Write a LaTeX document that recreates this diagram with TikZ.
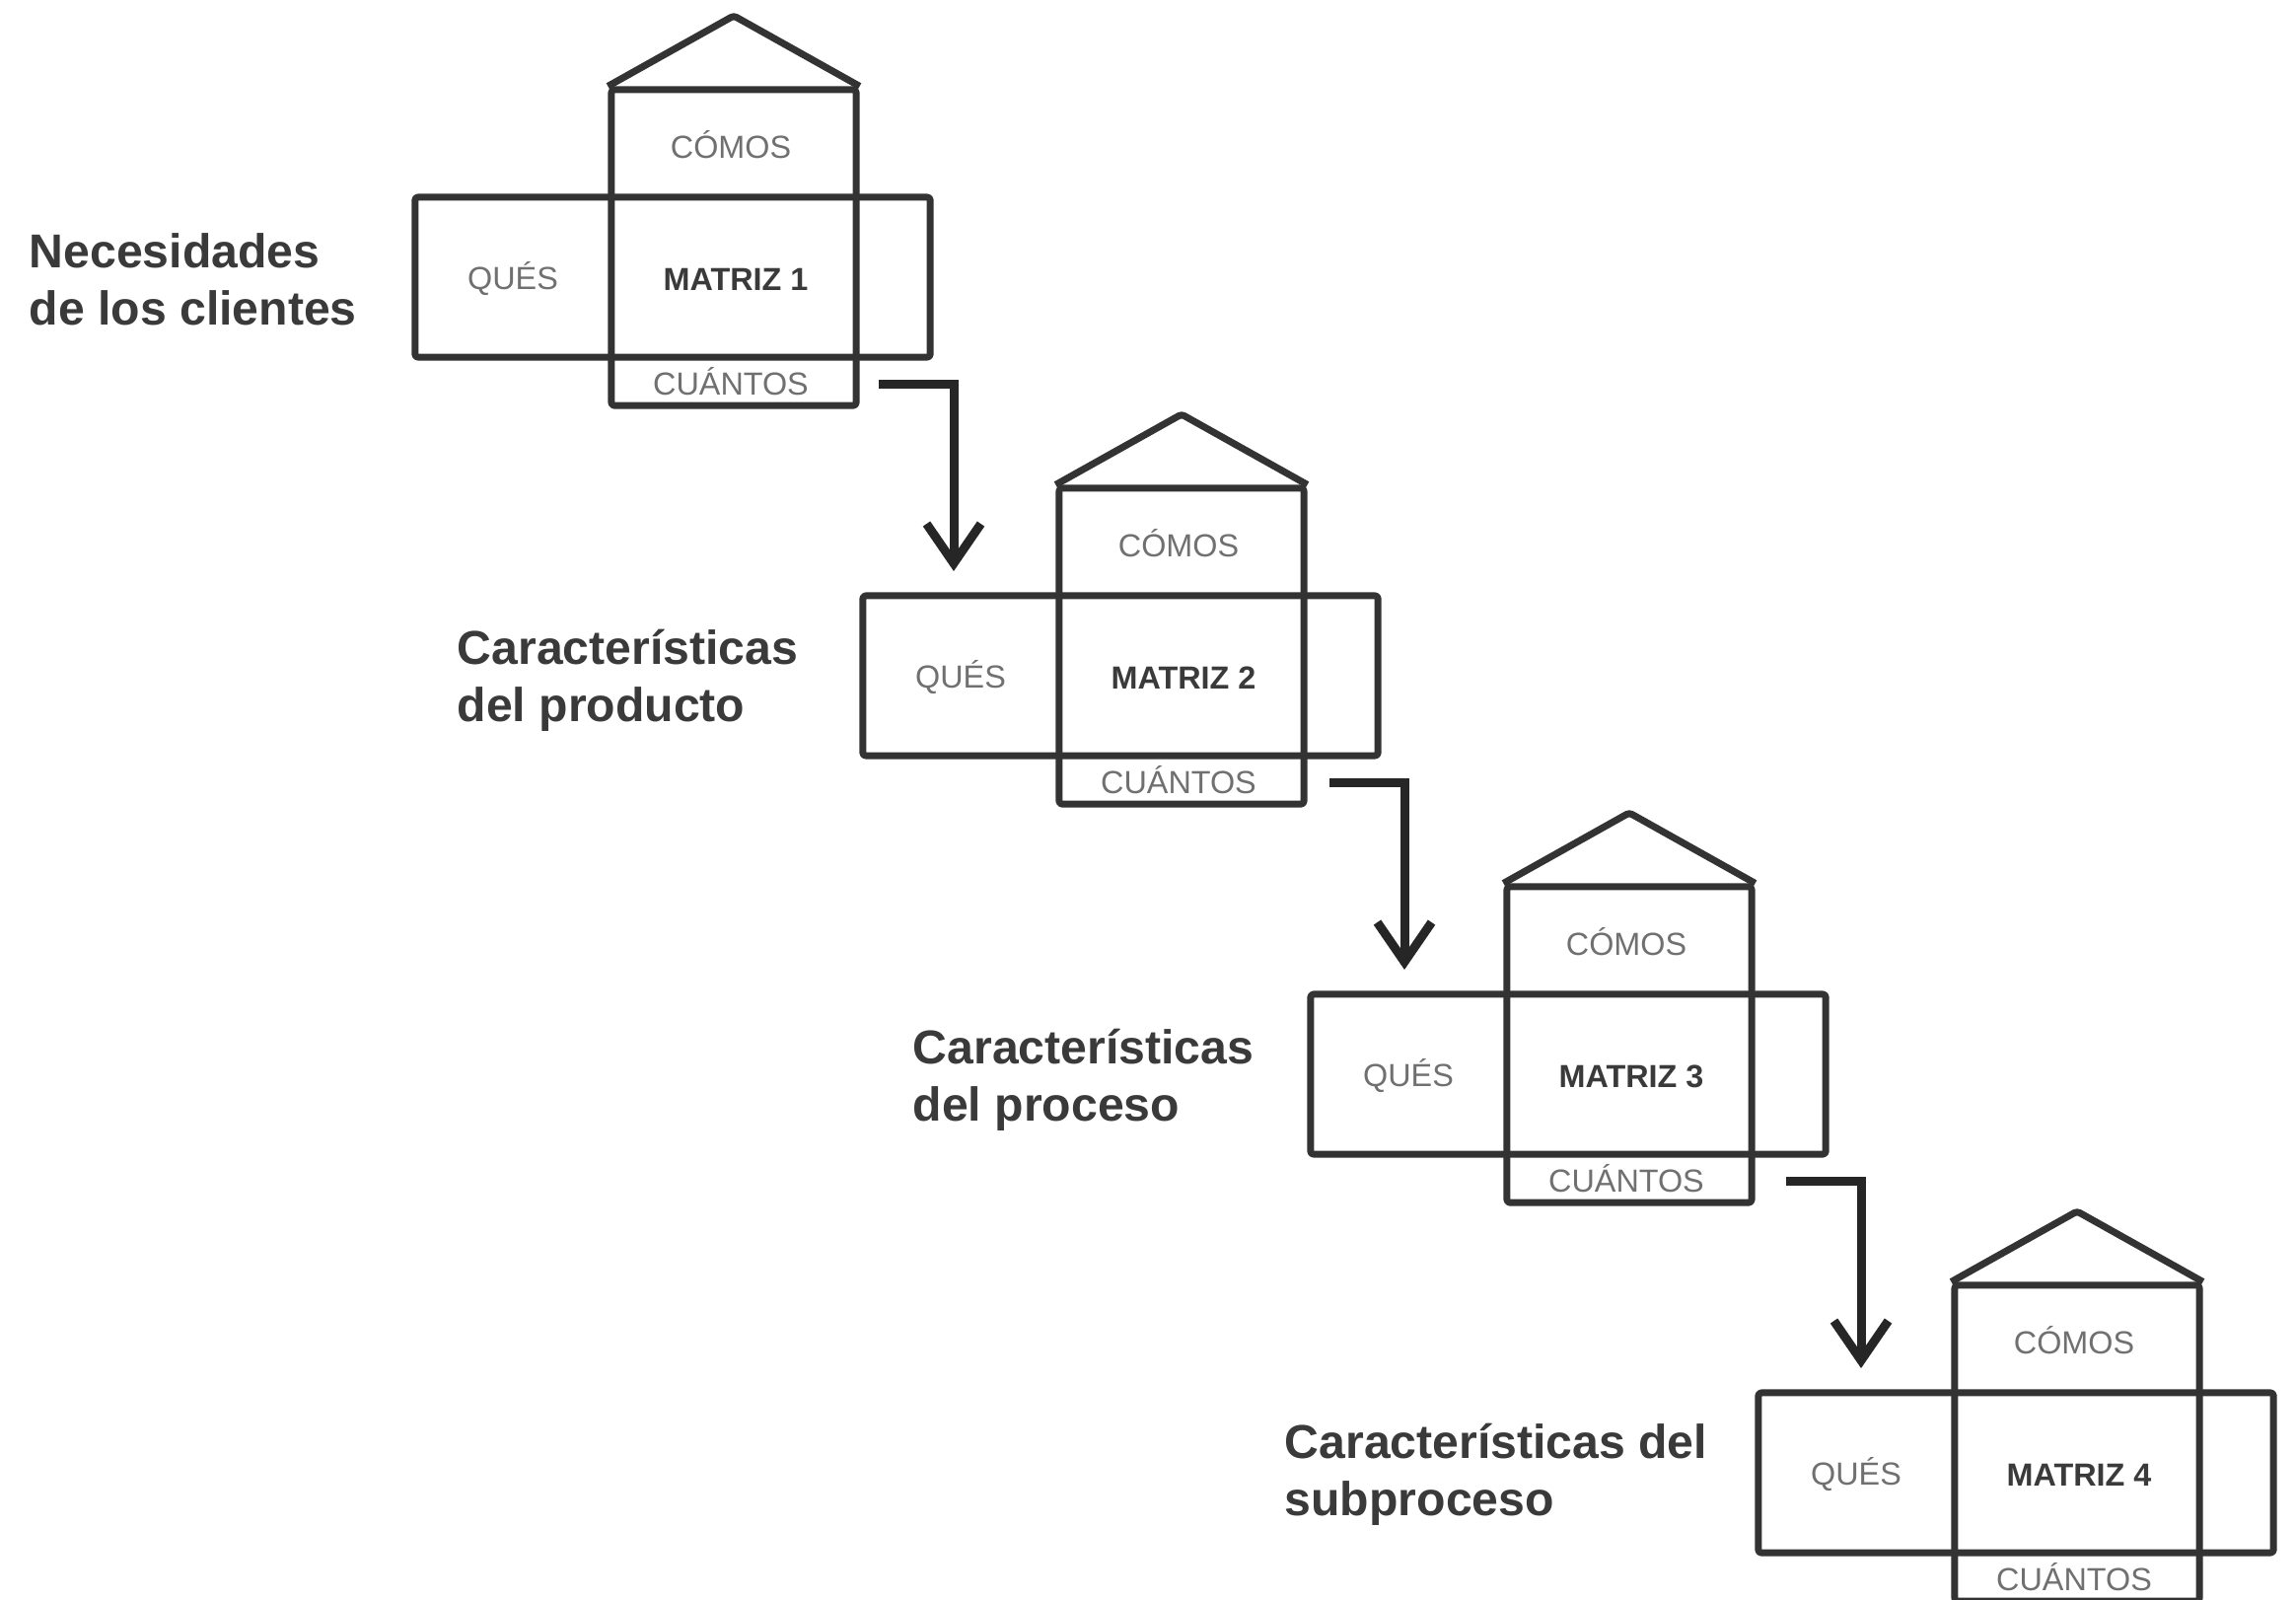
\documentclass[tikz,border=0pt]{standalone}
\usepackage{fontspec}
\setmainfont{Liberation Sans}
\usetikzlibrary{arrows.meta}
\definecolor{linec}{HTML}{333333}
\definecolor{txtc}{HTML}{3A3A3A}
\definecolor{smallc}{HTML}{707070}
\tikzset{
 frame/.style={draw=linec, line width=0.07cm, rounded corners=0.03cm, line join=round},
 small/.style={font=\fontsize{9.2}{11}\selectfont, text=smallc, inner sep=0},
 mat/.style={font=\fontsize{9.2}{11}\selectfont\bfseries, text=txtc, inner sep=0},
 biglabel/.style={font=\fontsize{13.7}{16.5}\selectfont\bfseries, text=txtc, align=left, anchor=west, inner sep=0},
 flow/.style={draw=black!85, line width=0.09cm, -{Straight Barb[length=0.4cm,width=0.55cm,line width=0.09cm]}}
}
\begin{document}
\begin{tikzpicture}[x=0.01cm,y=-0.01cm]
\useasboundingbox (0,0) rectangle (2328,1621);
\fill[white] (0,0) rectangle (2328,1621);
\foreach \i/\n in {0/1,1/2,2/3,3/4}{
 \begin{scope}[shift={(454*\i,404*\i)}]
  \node[frame, minimum width=2.48cm, minimum height=3.20cm] (col\n) at (744,251) {};
  \node[frame, minimum width=5.22cm, minimum height=1.62cm] (box\n) at (682,281) {};
  \coordinate (apex\n) at (744,16);
  \draw[frame] (col\n.north west) -- (apex\n) -- (col\n.north east);
  \node[small] (comos\n) at (741,147) {CÓMOS};
  \node[small] (ques\n) at (520,283) {QUÉS};
  \node[mat] (matriz\n) at (746,283) {MATRIZ \n};
  \node[small] (cuantos\n) at (741,387) {CUÁNTOS};
 \end{scope}
}
\foreach \i/\n/\e in {0/1/0,1/2/3,2/3/12}{
 \begin{scope}[shift={(454*\i+\e,404*\i)}]
  \coordinate (as\n) at (891,389);
  \coordinate (ae\n) at (967,579);
 \end{scope}
 \draw[flow] (as\n) -| (ae\n);
}
\node[biglabel] (l1) at (29,283) {Necesidades\\de los clientes};
\node[biglabel] (l2) at (463,690) {Características\\del producto};
\node[biglabel] (l3) at (925,1095) {Características\\del proceso};
\node[biglabel] (l4) at (1302,1495) {Características del\\subproceso};
\end{tikzpicture}
\end{document}
